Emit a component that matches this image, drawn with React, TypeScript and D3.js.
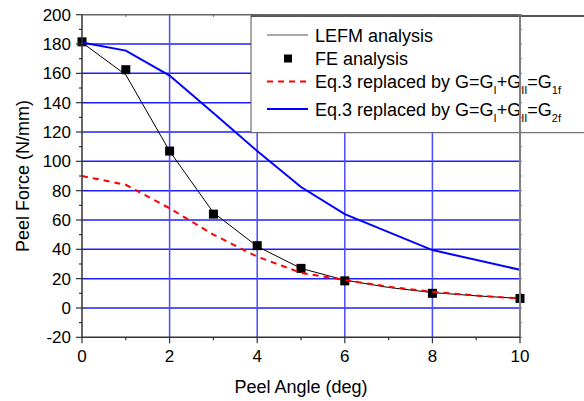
import React, { useEffect, useRef } from 'react';
import * as d3 from 'd3';

// peel angle (deg)
const angles = [0, 1, 2, 3, 4, 5, 6, 7, 8, 9, 10];
const lefmForce = [181, 159, 107, 65, 42, 27, 19, 14, 10.5, 8.3, 6.5];

const feAngles = [0, 1, 2, 3, 4, 5, 6, 8, 10];
const feForce = [181.5, 162.5, 107, 64, 42.5, 27, 18.5, 10, 6.5];

const g1fForce = [90, 84, 68, 50, 35, 24, 19, 14.5, 11, 8.5, 6.5];

const g2fAngles = [0, 1, 2, 3, 4, 5, 6, 8, 10];
const g2fForce = [181, 175.5, 158.5, 133, 107, 82.5, 64, 39.5, 26];

const xTicks = [0, 2, 4, 6, 8, 10];
const yTicks = [-20, 0, 20, 40, 60, 80, 100, 120, 140, 160, 180, 200];

const FONT = '"Liberation Sans", Arial, sans-serif';

export default function App() {
    const ref = useRef<SVGSVGElement>(null);

    useEffect(() => {
        document.body.style.margin = '0';
        const svg = d3.select(ref.current);
        svg.selectAll('*').remove();

        const left = 82, right = 520, top = 14.7, bottom = 337.3;
        const x = d3.scaleLinear().domain([0, 10]).range([left, right]);
        const y = d3.scaleLinear().domain([-20, 200]).range([bottom, top]);

        // grid
        const grid = svg.append('g').attr('stroke', '#1f1fff').attr('stroke-width', 1.5);
        grid.selectAll('.h')
            .data(yTicks.filter(v => v >= 0 && v < 200))
            .join('line')
            .attr('x1', left).attr('x2', right)
            .attr('y1', d => y(d)).attr('y2', d => y(d));
        grid.selectAll('.v')
            .data(xTicks.filter(v => v > 0 && v < 10))
            .join('line')
            .attr('y1', top).attr('y2', bottom)
            .attr('x1', d => x(d)).attr('x2', d => x(d))
            .attr('stroke', '#4a4aff');

        // FE squares
        svg.append('g').selectAll('rect')
            .data(feAngles)
            .join('rect')
            .attr('x', (d) => x(d) - 4.5)
            .attr('y', (d, i) => y(feForce[i]) - 4.5)
            .attr('width', 9).attr('height', 9)
            .attr('fill', '#000');

        const line = (xs: number[], ys: number[]) =>
            d3.line<number>().x(d => x(d)).y((d, i) => y(ys[i]))(xs);

        svg.append('path').attr('d', line(angles, lefmForce))
            .attr('fill', 'none').attr('stroke', '#000').attr('stroke-width', 1);
        svg.append('path').attr('d', line(angles, g1fForce))
            .attr('fill', 'none').attr('stroke', '#ff0000').attr('stroke-width', 2)
            .attr('stroke-dasharray', '6,5');
        svg.append('path').attr('d', line(g2fAngles, g2fForce))
            .attr('fill', 'none').attr('stroke', '#0000ff').attr('stroke-width', 2);

        // legend
        const lg = svg.append('g');
        lg.append('rect')
            .attr('x', 251).attr('y', 16).attr('width', 400).attr('height', 116.7)
            .attr('fill', '#fff').attr('stroke', '#555').attr('stroke-width', 1);
        lg.append('line').attr('x1', 251).attr('x2', 584).attr('y1', 16).attr('y2', 16)
            .attr('stroke', '#000').attr('stroke-width', 1.2);

        const rows = [35, 58.5, 81.5, 109];
        lg.append('line').attr('x1', 267).attr('x2', 308).attr('y1', rows[0]).attr('y2', rows[0])
            .attr('stroke', '#555').attr('stroke-width', 1);
        lg.append('rect').attr('x', 284).attr('y', rows[1] - 4).attr('width', 8).attr('height', 8)
            .attr('fill', '#000');
        lg.append('line').attr('x1', 267).attr('x2', 308).attr('y1', rows[2]).attr('y2', rows[2])
            .attr('stroke', '#ff0000').attr('stroke-width', 2).attr('stroke-dasharray', '6,5');
        lg.append('line').attr('x1', 267).attr('x2', 308).attr('y1', rows[3]).attr('y2', rows[3])
            .attr('stroke', '#0000ff').attr('stroke-width', 2);

        const text = (g: any, tx: number, ty: number) =>
            g.append('text').attr('x', tx).attr('y', ty)
                .attr('font-family', FONT).attr('font-size', 18).attr('fill', '#000');

        text(lg, 315, rows[0] + 6.5).text('LEFM analysis');
        text(lg, 315, rows[1] + 6.5).text('FE analysis');

        const eqLabel = (ty: number, sub: string) => {
            const t = text(lg, 315, ty);
            t.append('tspan').text('Eq.3 replaced by G=G');
            t.append('tspan').attr('dy', 6).attr('font-size', 11).text('I');
            t.append('tspan').attr('dy', -6).text('+G');
            t.append('tspan').attr('dy', 6).attr('font-size', 11).text('II');
            t.append('tspan').attr('dy', -6).text('=G');
            t.append('tspan').attr('dy', 6).attr('font-size', 11).text(sub);
        };
        eqLabel(rows[2] + 6.5, '1f');
        eqLabel(rows[3] + 6.5, '2f');

        // axes frame
        svg.append('line').attr('x1', left).attr('x2', right).attr('y1', top).attr('y2', top)
            .attr('stroke', '#666').attr('stroke-width', 1.5);
        svg.append('line').attr('x1', right).attr('x2', right).attr('y1', top).attr('y2', bottom)
            .attr('stroke', '#808080').attr('stroke-width', 2);
        svg.append('line').attr('x1', left).attr('x2', right).attr('y1', bottom).attr('y2', bottom)
            .attr('stroke', '#333').attr('stroke-width', 1.5);
        svg.append('line').attr('x1', left).attr('x2', left).attr('y1', top).attr('y2', bottom)
            .attr('stroke', '#333').attr('stroke-width', 1.5);

        // ticks
        const ticks = svg.append('g').attr('stroke', '#333').attr('stroke-width', 1.2);
        d3.range(-20, 201, 10).forEach(v => {
            const len = v % 20 === 0 ? 6 : 3;
            ticks.append('line').attr('x1', left - len).attr('x2', left).attr('y1', y(v)).attr('y2', y(v));
            ticks.append('line').attr('x1', right).attr('x2', right + 2).attr('y1', y(v)).attr('y2', y(v))
                .attr('stroke', '#888');
        });
        d3.range(0, 11, 1).forEach(v => {
            const len = v % 2 === 0 ? 6 : 3;
            ticks.append('line').attr('x1', x(v)).attr('x2', x(v)).attr('y1', bottom).attr('y2', bottom + len);
            ticks.append('line').attr('x1', x(v)).attr('x2', x(v)).attr('y1', top).attr('y2', top + 2)
                .attr('stroke', '#666');
        });

        // tick labels
        yTicks.forEach(v => {
            text(svg, 71, y(v) + 6).attr('text-anchor', 'end').attr('font-size', 17).text(v);
        });
        xTicks.forEach(v => {
            text(svg, x(v), 362).attr('text-anchor', 'middle').attr('font-size', 17).text(v);
        });

        // axis titles
        text(svg, x(5), 393).attr('text-anchor', 'middle').text('Peel Angle (deg)');
        text(svg, 0, 0).attr('text-anchor', 'middle')
            .attr('transform', `translate(29, ${(top + bottom) / 2}) rotate(-90)`)
            .text('Peel Force (N/mm)');
    }, []);

    return <svg ref={ref} width={584} height={401} style={{ display: 'block' }} />;
}
